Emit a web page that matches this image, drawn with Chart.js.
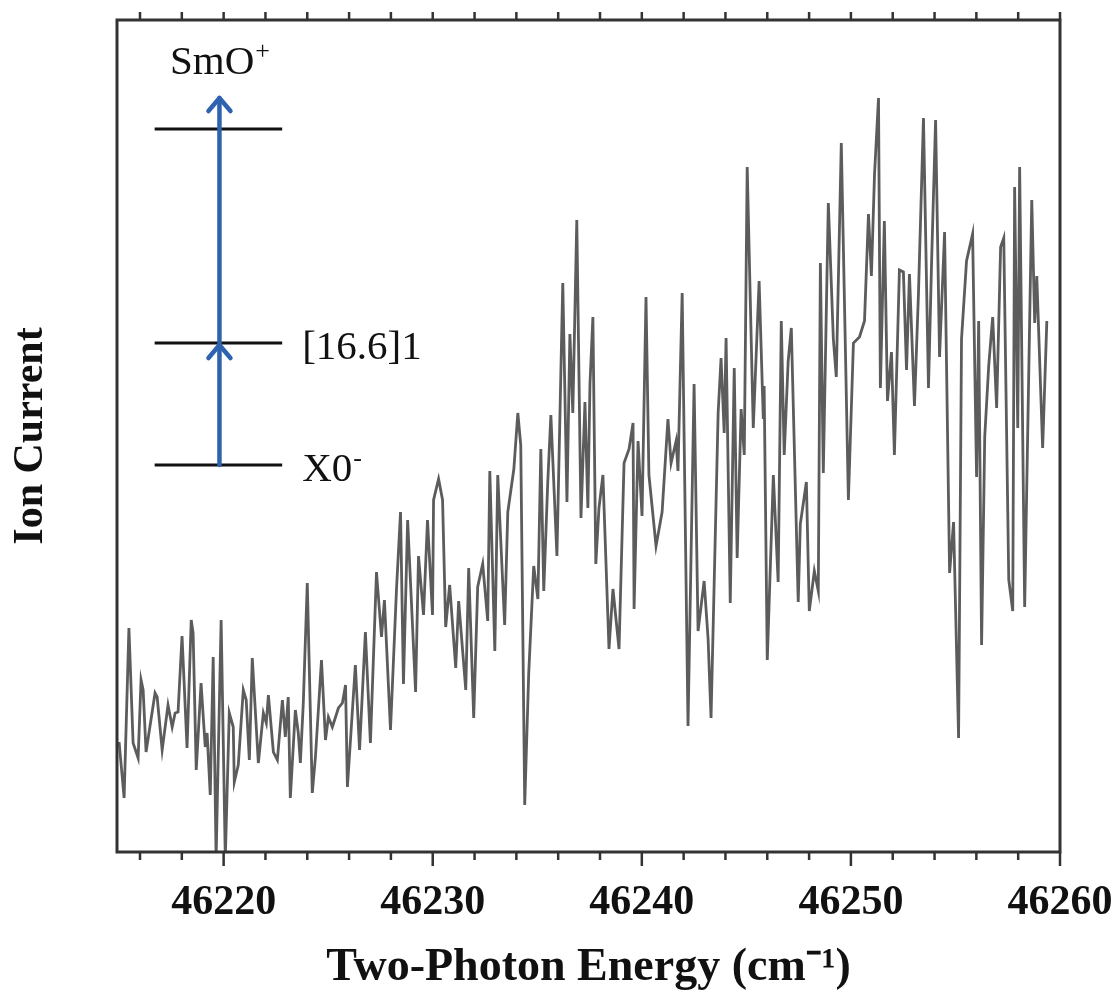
<!DOCTYPE html>
<html>
<head>
<meta charset="utf-8">
<script src="https://cdn.jsdelivr.net/npm/chart.js@4.4.0/dist/chart.umd.min.js"></script>
<style>
  html, body { margin: 0; padding: 0; background: #fff; }
</style>
</head>
<body>
<canvas id="spectrum" width="1120" height="1002"></canvas>
<script>
// Two-photon energy (cm-1) and ion current (arbitrary units)
const energy = [
  46215.00, 46215.24, 46215.47, 46215.67, 46215.91, 46216.05, 46216.15, 46216.29, 46216.72, 46216.82,
  46217.06, 46217.34, 46217.54, 46217.68, 46217.82, 46218.01, 46218.25, 46218.45, 46218.54, 46218.69,
  46218.92, 46219.12, 46219.21, 46219.36, 46219.50, 46219.64, 46219.88, 46220.08, 46220.27, 46220.46,
  46220.51, 46220.70, 46220.94, 46221.08, 46221.23, 46221.37, 46221.66, 46221.90, 46222.04, 46222.14,
  46222.38, 46222.57, 46222.81, 46222.95, 46223.09, 46223.19, 46223.43, 46223.57, 46223.67, 46223.81,
  46224.00, 46224.24, 46224.39, 46224.68, 46224.87, 46225.01, 46225.20, 46225.49, 46225.68, 46225.83,
  46225.92, 46226.30, 46226.50, 46226.78, 46227.02, 46227.31, 46227.55, 46227.69, 46227.98, 46228.27,
  46228.46, 46228.60, 46228.80, 46229.18, 46229.32, 46229.56, 46229.75, 46229.99, 46230.04, 46230.28,
  46230.47, 46230.62, 46230.81, 46231.10, 46231.24, 46231.58, 46231.72, 46231.96, 46232.15, 46232.39,
  46232.63, 46232.73, 46232.97, 46233.11, 46233.44, 46233.59, 46233.88, 46234.07, 46234.21, 46234.40,
  46234.59, 46234.83, 46235.03, 46235.17, 46235.31, 46235.50, 46235.65, 46235.94, 46236.22, 46236.42,
  46236.56, 46236.70, 46236.89, 46237.09, 46237.28, 46237.42, 46237.52, 46237.66, 46237.80, 46237.95,
  46238.14, 46238.43, 46238.62, 46238.91, 46239.15, 46239.39, 46239.58, 46239.63, 46239.82, 46240.01,
  46240.20, 46240.34, 46240.68, 46240.97, 46241.25, 46241.40, 46241.64, 46241.73, 46241.93, 46242.21,
  46242.50, 46242.69, 46242.98, 46243.17, 46243.31, 46243.65, 46243.79, 46243.94, 46244.03, 46244.23,
  46244.42, 46244.56, 46244.75, 46244.90, 46245.04, 46245.33, 46245.61, 46245.81, 46245.85, 46246.00,
  46246.29, 46246.52, 46246.67, 46246.81, 46247.00, 46247.15, 46247.48, 46247.58, 46247.87, 46248.01,
  46248.25, 46248.44, 46248.54, 46248.68, 46248.92, 46249.16, 46249.30, 46249.54, 46249.88, 46250.12,
  46250.41, 46250.65, 46250.84, 46250.98, 46251.13, 46251.32, 46251.41, 46251.60, 46251.75, 46251.94,
  46252.08, 46252.32, 46252.51, 46252.66, 46252.80, 46253.04, 46253.23, 46253.47, 46253.71, 46253.86,
  46254.05, 46254.24, 46254.48, 46254.72, 46254.91, 46255.15, 46255.29, 46255.53, 46255.82, 46256.01,
  46256.11, 46256.25, 46256.40, 46256.59, 46256.78, 46256.97, 46257.16, 46257.31, 46257.55, 46257.74,
  46257.83, 46257.98, 46258.07, 46258.31, 46258.65, 46258.79, 46258.89, 46259.17, 46259.37
];
const ionCurrent = [
  110, 54, 224, 109, 94, 172, 162, 100, 159, 155,
  102, 147, 125, 139, 140, 216, 104, 232, 219, 82,
  169, 105, 119, 57, 195, -6, 232, -6, 139, 125,
  70, 87, 162, 152, 92, 194, 89, 139, 129, 157,
  100, 92, 152, 115, 155, 54, 142, 119, 89, 149,
  269, 59, 95, 192, 112, 135, 125, 144, 149, 167,
  65, 187, 102, 220, 109, 280, 215, 252, 122, 264,
  340, 168, 332, 160, 296, 237, 332, 237, 352, 373,
  352, 225, 267, 184, 251, 162, 284, 134, 265, 288,
  231, 381, 201, 377, 227, 340, 383, 439, 407, 47,
  178, 286, 253, 403, 261, 369, 437, 296, 569, 350,
  518, 439, 632, 334, 450, 344, 468, 535, 288, 344,
  377, 203, 263, 203, 389, 403, 429, 243, 411, 336,
  555, 377, 306, 340, 433, 389, 411, 381, 559, 126,
  468, 221, 271, 213, 134, 439, 494, 419, 514, 249,
  484, 294, 443, 397, 685, 424, 571, 433, 466, 192,
  377, 270, 531, 397, 491, 524, 250, 328, 370, 241,
  281, 261, 589, 379, 649, 513, 475, 709, 352, 509,
  515, 531, 638, 576, 678, 754, 464, 631, 451, 500,
  397, 582, 580, 482, 578, 446, 558, 734, 464, 591,
  732, 495, 620, 279, 330, 114, 513, 591, 618, 375,
  531, 207, 415, 486, 535, 444, 605, 614, 272, 241,
  665, 424, 685, 245, 652, 529, 576, 404, 531
];

// axis ticks
const majorTicks = [46220, 46230, 46240, 46250, 46260];
const allTicks = [46216, 46218, 46220, 46222, 46224, 46226, 46228, 46230, 46232, 46234, 46236,
  46238, 46240, 46242, 46244, 46246, 46248, 46250, 46252, 46254, 46256, 46258, 46260];

// energy-level inset (drawn in data units)
const levelNames = ['X0', '[16.6]1', ''];
const levelSup = ['-', '', ''];
const levelValues = [387, 509, 723];
const levelStart = 46216.7;
const levelEnd = 46222.8;
const arrowAt = 46219.8;
const ionLimit = 756;

const serif = "'Liberation Serif', 'Times New Roman', serif";

const frameTicks = {
    id: 'frameTicks',
    afterDraw(chart) {
        const { ctx, chartArea: a, scales: { x } } = chart;
        ctx.save();
        ctx.strokeStyle = '#333';
        ctx.lineWidth = 3;
        ctx.strokeRect(a.left, a.top, a.right - a.left, a.bottom - a.top);
        ctx.lineWidth = 2.5;
        allTicks.forEach(v => {
            const px = x.getPixelForValue(v);
            const len = majorTicks.includes(v) ? 14 : 8;
            ctx.beginPath();
            ctx.moveTo(px, a.bottom);
            ctx.lineTo(px, a.bottom + len);
            ctx.moveTo(px, a.top);
            ctx.lineTo(px, a.top - 8);
            ctx.stroke();
        });
        ctx.restore();
    }
};

function arrow(ctx, x, y0, y1) {
    ctx.beginPath();
    ctx.moveTo(x, y0);
    ctx.lineTo(x, y1 + 2);
    ctx.stroke();
    ctx.beginPath();
    ctx.moveTo(x - 11, y1 + 15);
    ctx.lineTo(x, y1 + 2);
    ctx.lineTo(x + 11, y1 + 15);
    ctx.stroke();
}

function supText(ctx, base, sup, x, y, align) {
    ctx.font = `41px ${serif}`;
    const w = ctx.measureText(base).width;
    ctx.font = `26px ${serif}`;
    const ws = sup ? ctx.measureText(sup).width : 0;
    let left = align === 'center' ? x - (w + ws) / 2 : x;
    ctx.font = `41px ${serif}`;
    ctx.textAlign = 'left';
    ctx.textBaseline = 'alphabetic';
    ctx.fillText(base, left, y);
    if (sup) {
        ctx.font = `26px ${serif}`;
        ctx.fillText(sup, left + w + 1, y - 15);
    }
}

const levelInset = {
    id: 'levelInset',
    afterDatasetsDraw(chart) {
        const { ctx, scales: { x, y } } = chart;
        const xl = x.getPixelForValue(levelStart);
        const xr = x.getPixelForValue(levelEnd);
        const xa = x.getPixelForValue(arrowAt);
        ctx.save();
        ctx.strokeStyle = '#111';
        ctx.lineWidth = 3;
        levelValues.forEach(v => {
            const py = y.getPixelForValue(v);
            ctx.beginPath();
            ctx.moveTo(xl, py);
            ctx.lineTo(xr, py);
            ctx.stroke();
        });
        ctx.strokeStyle = '#2f63b0';
        ctx.lineWidth = 4.5;
        ctx.lineCap = 'round';
        ctx.lineJoin = 'round';
        arrow(ctx, xa, y.getPixelForValue(levelValues[0]), y.getPixelForValue(levelValues[1]));
        arrow(ctx, xa, y.getPixelForValue(levelValues[1]), y.getPixelForValue(ionLimit));
        ctx.fillStyle = '#111';
        levelValues.forEach((v, i) => {
            if (!levelNames[i]) return;
            supText(ctx, levelNames[i], levelSup[i], xr + 20, y.getPixelForValue(v) + 16, 'left');
        });
        supText(ctx, 'SmO', '+', xa, y.getPixelForValue(ionLimit) - 22, 'center');
        ctx.restore();
    }
};

new Chart(document.getElementById('spectrum'), {
    type: 'line',
    data: {
        datasets: [{
            data: energy.map((e, i) => ({ x: e, y: ionCurrent[i] })),
            borderColor: '#5c5c5c',
            borderWidth: 2.8,
            pointRadius: 0,
            tension: 0,
            fill: false
        }]
    },
    options: {
        responsive: false,
        animation: false,
        devicePixelRatio: 1,
        layout: { padding: { left: 0, right: 60, top: 20, bottom: 0 } },
        plugins: { legend: { display: false }, tooltip: { enabled: false } },
        scales: {
            x: {
                type: 'linear',
                min: 46214.9,
                max: 46260,
                grid: { display: false },
                border: { display: false },
                afterBuildTicks: s => { s.ticks = majorTicks.map(v => ({ value: v })); },
                afterFit: s => { s.height = 150; s.paddingLeft = 0; s.paddingRight = 0; },
                ticks: {
                    autoSkip: false,
                    maxRotation: 0,
                    padding: 18,
                    color: '#111',
                    font: { family: serif, size: 42, weight: 'bold' },
                    callback: v => String(v)
                },
                title: {
                    display: true,
                    text: 'Two-Photon Energy (cm\u207B\u00B9)',
                    color: '#111',
                    font: { family: serif, size: 46, weight: 'bold' },
                    padding: { top: 0, bottom: 6 }
                }
            },
            y: {
                min: 0,
                max: 832,
                grid: { display: false },
                border: { display: false },
                ticks: { display: false },
                afterFit: s => { s.width = 117; },
                title: {
                    display: true,
                    text: 'Ion Current',
                    color: '#111',
                    font: { family: serif, size: 42, weight: 'bold' },
                    padding: { top: 6, bottom: 0 }
                }
            }
        }
    },
    plugins: [frameTicks, levelInset]
});
</script>
</body>
</html>
